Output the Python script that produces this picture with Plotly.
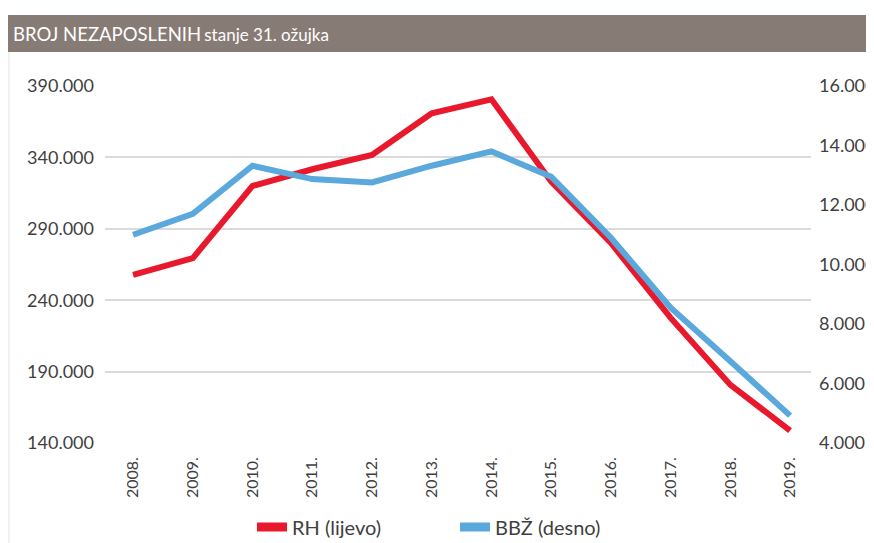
import plotly.graph_objects as go

years = ["2008.", "2009.", "2010.", "2011.", "2012.", "2013.", "2014.", "2015.", "2016.", "2017.", "2018.", "2019."]
rh_lijevo = [257700, 269400, 320000, 331700, 341700, 370900, 380700, 323000, 280100, 227600, 180700, 148700]
bbz_desno = [11000, 11700, 13320, 12870, 12760, 13320, 13800, 12950, 10900, 8550, 6750, 4920]

left_ticks = [140000, 190000, 240000, 290000, 340000, 390000]
right_ticks = [4000, 6000, 8000, 10000, 12000, 14000, 16000]

RED = "#e8192c"
BLUE = "#5aa8dc"
TXT = "#3f3f3f"
FONT = "Lato, 'Open Sans', sans-serif"

fig = go.Figure()
fig.add_trace(go.Scatter(x=years, y=rh_lijevo, name="RH (lijevo)", mode="lines", showlegend=False,
                         line=dict(color=RED, width=6), yaxis="y"))
fig.add_trace(go.Scatter(x=years, y=bbz_desno, name="BBŽ (desno)", mode="lines", showlegend=False,
                         line=dict(color=BLUE, width=6), yaxis="y2"))
# legend entries with the thicker sample strokes of the reference
fig.add_trace(go.Scatter(x=[None], y=[None], name="RH (lijevo)", mode="lines",
                         line=dict(color=RED, width=9), yaxis="y"))
fig.add_trace(go.Scatter(x=[None], y=[None], name="BBŽ (desno)", mode="lines",
                         line=dict(color=BLUE, width=9), yaxis="y2"))

# the page body adds an 8px offset; the figure is sized to fit the window
OFF = 8
W, H = 874 - OFF, 543 - OFF
L, R, T, B = 105 - OFF, 811 - OFF, 86 - OFF, 443 - OFF
def px(x):
    return (x - OFF - L) / (R - L)
def py(y):
    return (B - (y - OFF)) / (B - T)

fig.update_layout(
    width=W, height=H,
    margin=dict(l=L, r=W - R, t=T, b=H - B, autoexpand=False),
    paper_bgcolor="white", plot_bgcolor="white",
    separators=",.",
    font=dict(family=FONT, color=TXT),
    xaxis=dict(type="category", range=[-0.47, 11.35], tickangle=-90, automargin=False,
               showgrid=False, showline=False, zeroline=False, ticks="",
               ticklabelstandoff=10,
               tickfont=dict(size=16, color=TXT)),
    yaxis=dict(range=[140000, 390000], tickvals=left_ticks, tickformat=",d", automargin=False,
               showgrid=True, gridcolor="#dcd9d9", gridwidth=1.5, zeroline=False,
               showline=False, ticks="", ticklabelstandoff=10,
               tickfont=dict(size=18, color=TXT)),
    yaxis2=dict(range=[4000, 16000], tickvals=right_ticks, tickformat=",d", automargin=False,
                overlaying="y", side="right", showgrid=False, zeroline=False,
                showline=False, ticks="", ticklabelstandoff=7,
                tickfont=dict(size=18, color=TXT)),
    showlegend=True,
    legend=dict(orientation="h", xref="container", yref="container",
                x=(455 - OFF) / W, xanchor="center", y=(H - (527 - OFF)) / H, yanchor="middle",
                entrywidth=158, entrywidthmode="pixels",
                font=dict(size=20, color=TXT), bgcolor="rgba(0,0,0,0)"),
    shapes=[
        dict(type="rect", xref="paper", yref="paper", x0=px(OFF - 3), x1=px(880), y0=py(52), y1=py(15),
             fillcolor="#877c75", line=dict(width=0), layer="below"),
        dict(type="line", xref="paper", yref="paper", x0=px(9), x1=px(9), y0=py(550), y1=py(52),
             line=dict(color="#e3e3e3", width=1)),
    ],
    annotations=[
        dict(xref="paper", yref="paper", x=px(11), y=py(34), xanchor="left", yanchor="middle",
             showarrow=False,
             text="<span style='font-size:18.5px'>BROJ NEZAPOSLENIH</span> <span style='font-size:17px'>stanje 31. ožujka</span>",
             font=dict(family=FONT, color="white")),
    ],
)

fig.write_html("out.html")
